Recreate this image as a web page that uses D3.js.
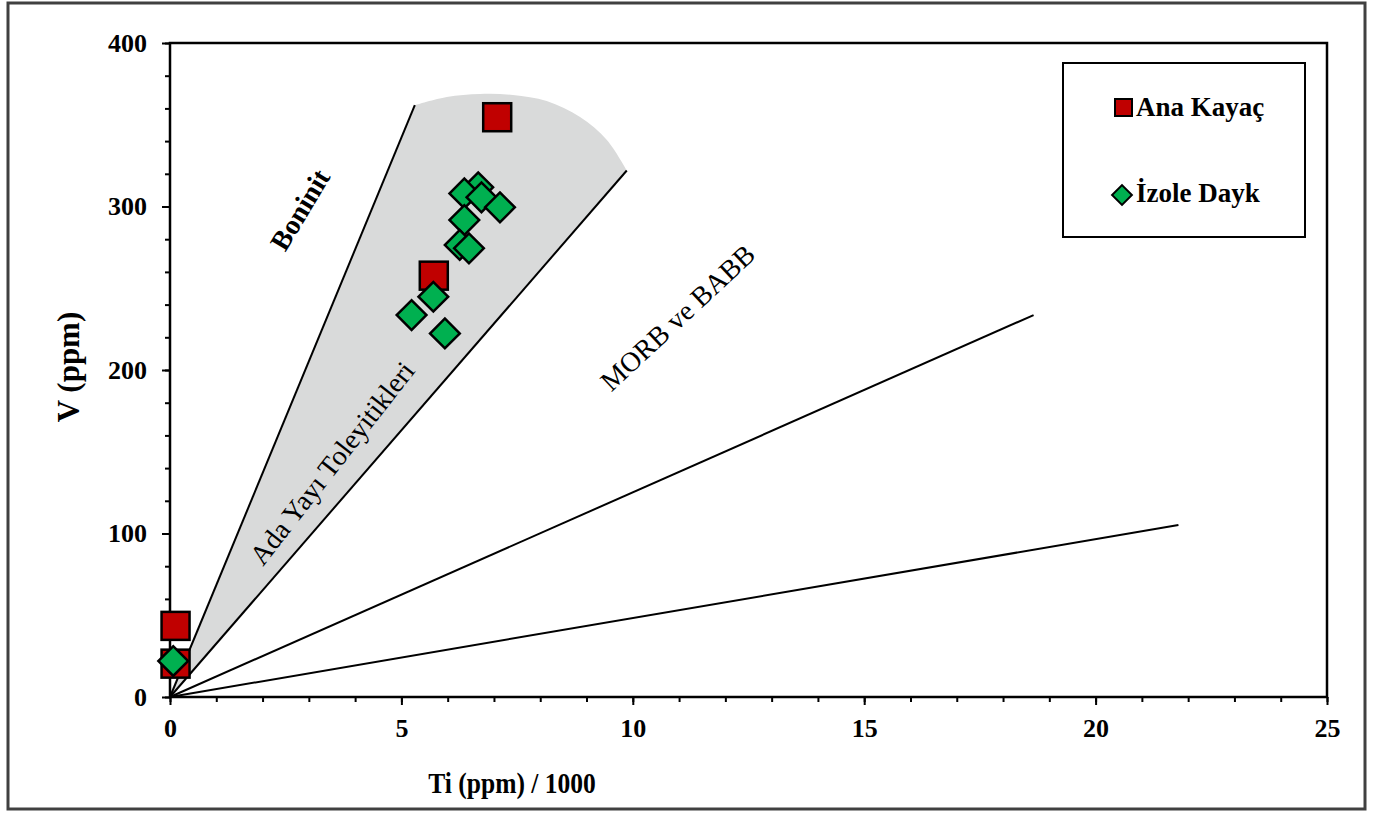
<!DOCTYPE html>
<html>
<head>
<meta charset="utf-8">
<script src="https://cdn.jsdelivr.net/npm/d3@7"></script>
<style>
  body { margin: 0; background: #fff; }
  svg text { font-family: "Times New Roman", "Liberation Serif", serif; }
</style>
</head>
<body>
<svg id="chart" width="1373" height="814"></svg>
<script>
// Ti/1000 (x) vs V ppm (y)
const anaKayac = [[7.07, 354.6], [5.70, 257.7], [0.12, 43.5], [0.12, 20.4]];
const izoleDayk = [
  [6.66, 311.7], [6.36, 308.0], [6.73, 305.6], [7.13, 299.5], [6.36, 291.7],
  [6.26, 276.5], [6.46, 274.4], [5.69, 244.8], [5.22, 233.6], [5.94, 222.4], [0.07, 22.0]
];

// boundary lines, all start at the origin
const lineEnds = [[5.29, 362], [9.87, 322], [18.66, 233.6], [21.79, 105.2]];
// top edge of the grey arc field
const arcEdge = [[5.29, 362], [5.98, 367], [6.70, 368.8], [7.41, 368.2], [8.14, 364.5], [8.86, 354.7], [9.44, 340.7], [9.87, 322]];

const fieldLabels = [
  { text: "Boninit", x: 2.81, y: 298, angle: -59, bold: true },
  { text: "Ada Yayı Toleyitikleri", x: 3.50, y: 143, angle: -52, bold: false },
  { text: "MORB ve BABB", x: 10.97, y: 232, angle: -43, bold: false }
];

const xTicks = [0, 5, 10, 15, 20, 25];
const yTicks = [0, 100, 200, 300, 400];

var svg = d3.select("#chart");

// outer frame
svg.append("rect")
  .attr("x", 8).attr("y", 3)
  .attr("width", 1357).attr("height", 806)
  .attr("fill", "#fff")
  .attr("stroke", "#404040")
  .attr("stroke-width", 3);

var x = d3.scaleLinear().domain([0, 25]).range([170, 1327]);
var y = d3.scaleLinear().domain([0, 400]).range([697, 43]);

// grey island arc field: origin -> arc edge -> back to origin
var arcPath = d3.line().x(d => x(d[0])).y(d => y(d[1])).curve(d3.curveCatmullRom)(arcEdge);
svg.append("path")
  .attr("d", arcPath.replace(/^M/, "M" + x(0) + "," + y(0) + "L") + "Z")
  .attr("fill", "#d9dada")
  .attr("stroke", "none");

svg.append("g")
  .selectAll("line")
  .data(lineEnds)
  .enter()
  .append("line")
  .attr("x1", x(0)).attr("y1", y(0))
  .attr("x2", d => x(d[0])).attr("y2", d => y(d[1]))
  .attr("stroke", "#000")
  .attr("stroke-width", 2);

// field names
svg.append("g")
  .selectAll("text")
  .data(fieldLabels)
  .enter()
  .append("text")
  .attr("transform", d => `translate(${x(d.x)},${y(d.y)}) rotate(${d.angle})`)
  .attr("text-anchor", "middle")
  .attr("dominant-baseline", "central")
  .attr("font-size", 28)
  .attr("font-weight", d => d.bold ? "bold" : "normal")
  .text(d => d.text);

// plot box
svg.append("rect")
  .attr("x", x(0)).attr("y", y(400))
  .attr("width", x(25) - x(0)).attr("height", y(0) - y(400))
  .attr("fill", "none")
  .attr("stroke", "#000")
  .attr("stroke-width", 2.5);

// minor ticks
svg.append("g")
  .attr("transform", `translate(0,${y(0)})`)
  .call(d3.axisBottom(x).tickValues(d3.range(0, 26, 1)).tickSize(5).tickFormat(""))
  .call(g => g.select(".domain").remove())
  .selectAll("line").attr("stroke-width", 2);
svg.append("g")
  .attr("transform", `translate(${x(0)},0)`)
  .call(d3.axisLeft(y).tickValues(d3.range(0, 401, 20)).tickSize(5).tickFormat(""))
  .call(g => g.select(".domain").remove())
  .selectAll("line").attr("stroke-width", 2);

// major ticks + labels
var xAxis = svg.append("g")
  .attr("transform", `translate(0,${y(0)})`)
  .call(d3.axisBottom(x).tickValues(xTicks).tickSize(8).tickPadding(14));
xAxis.select(".domain").remove();
xAxis.selectAll("line").attr("stroke-width", 2);
xAxis.selectAll("text")
  .attr("font-size", 26).attr("font-weight", "bold")
  .attr("font-family", "'Times New Roman', 'Liberation Serif', serif")
  .attr("fill", "#000");

var yAxis = svg.append("g")
  .attr("transform", `translate(${x(0)},0)`)
  .call(d3.axisLeft(y).tickValues(yTicks).tickSize(8).tickPadding(15));
yAxis.select(".domain").remove();
yAxis.selectAll("line").attr("stroke-width", 2);
yAxis.selectAll("text")
  .attr("font-size", 26).attr("font-weight", "bold")
  .attr("font-family", "'Times New Roman', 'Liberation Serif', serif")
  .attr("fill", "#000");

// axis titles
svg.append("text")
  .attr("transform", "translate(512,783) scale(0.88,1)")
  .attr("text-anchor", "middle")
  .attr("dominant-baseline", "central")
  .attr("font-size", 29).attr("font-weight", "bold")
  .text("Ti (ppm) / 1000");

svg.append("text")
  .attr("transform", "translate(68,367) rotate(-90)")
  .attr("text-anchor", "middle")
  .attr("dominant-baseline", "central")
  .attr("font-size", 31).attr("font-weight", "bold")
  .text("V (ppm)");

// data points
var sq = 28;
svg.append("g")
  .selectAll("rect")
  .data(anaKayac)
  .enter()
  .append("rect")
  .attr("x", d => x(d[0]) - sq / 2)
  .attr("y", d => y(d[1]) - sq / 2)
  .attr("width", sq).attr("height", sq)
  .attr("fill", "#c00000")
  .attr("stroke", "#000")
  .attr("stroke-width", 2.5);

var diamond = d3.symbol().type(d3.symbolSquare).size(21 * 21);
svg.append("g")
  .selectAll("path")
  .data(izoleDayk)
  .enter()
  .append("path")
  .attr("d", diamond)
  .attr("transform", d => `translate(${x(d[0])},${y(d[1])}) rotate(45)`)
  .attr("fill", "#00b050")
  .attr("stroke", "#000")
  .attr("stroke-width", 2.5);

// legend
var legend = svg.append("g");
legend.append("rect")
  .attr("x", 1063).attr("y", 63)
  .attr("width", 242).attr("height", 174)
  .attr("fill", "#fff")
  .attr("stroke", "#000")
  .attr("stroke-width", 2);

legend.append("rect")
  .attr("x", 1115).attr("y", 99)
  .attr("width", 17).attr("height", 17)
  .attr("fill", "#c00000")
  .attr("stroke", "#000")
  .attr("stroke-width", 2);
legend.append("text")
  .attr("x", 1136).attr("y", 116)
  .attr("font-size", 27).attr("font-weight", "bold")
  .text("Ana Kayaç");

legend.append("path")
  .attr("d", d3.symbol().type(d3.symbolSquare).size(14 * 14))
  .attr("transform", "translate(1122,195) rotate(45)")
  .attr("fill", "#00b050")
  .attr("stroke", "#000")
  .attr("stroke-width", 2);
legend.append("text")
  .attr("x", 1136).attr("y", 202)
  .attr("font-size", 27).attr("font-weight", "bold")
  .text("İzole Dayk");
</script>
</body>
</html>
